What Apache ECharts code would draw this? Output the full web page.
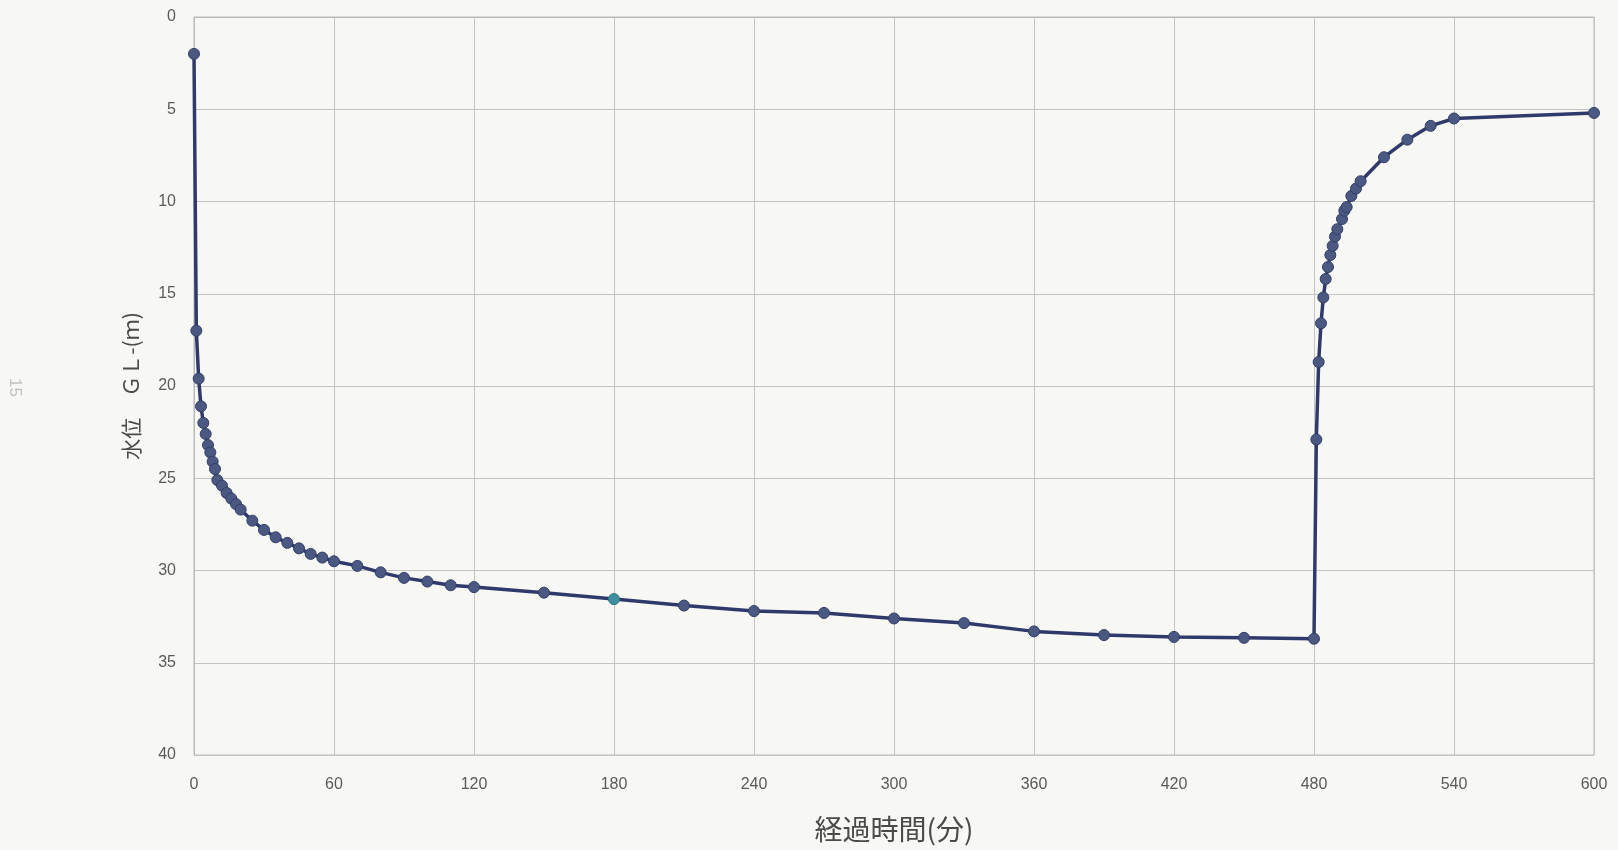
<!DOCTYPE html>
<html>
<head>
<meta charset="utf-8">
<title>経過時間と水位</title>
<script src="https://cdn.jsdelivr.net/npm/echarts@6/dist/echarts.min.js"></script>
<style>
  html, body { margin: 0; padding: 0; background: #f7f7f4; }
  #chart { width: 1618px; height: 850px; }
</style>
</head>
<body>
<div id="chart"></div>
<script>
// Pumping / recovery test: elapsed time (min) vs water level GL-(m)
const timesMin = [
  0, 1, 2, 3, 4, 5, 6, 7, 8, 9, 10, 12, 14, 16, 18, 20,
  25, 30, 35, 40, 45, 50, 55, 60, 70, 80, 90, 100, 110, 120,
  150, 180, 210, 240, 270, 300, 330, 360, 390, 420, 450, 480,
  481, 482, 483, 484, 485, 486, 487, 488, 489, 490, 492, 493, 494,
  496, 498, 500, 510, 520, 530, 540, 600
];
const waterLevel = [
  2.0, 17.0, 19.6, 21.1, 22.0, 22.6, 23.2, 23.6, 24.1, 24.5, 25.1, 25.4, 25.8, 26.1, 26.4, 26.7,
  27.3, 27.8, 28.2, 28.5, 28.8, 29.1, 29.3, 29.5, 29.75, 30.1, 30.4, 30.6, 30.8, 30.9,
  31.2, 31.55, 31.9, 32.2, 32.3, 32.6, 32.85, 33.3, 33.5, 33.6, 33.65, 33.7,
  22.9, 18.7, 16.6, 15.2, 14.2, 13.55, 12.9, 12.4, 11.9, 11.5, 10.95, 10.5, 10.3,
  9.7, 9.3, 8.9, 7.6, 6.65, 5.9, 5.5, 5.2
];
const xTicks = [0, 60, 120, 180, 240, 300, 360, 420, 480, 540, 600];
const yTicks = [0, 5, 10, 15, 20, 25, 30, 35, 40];
const highlightTime = 180;

const labelFont = '"Liberation Sans Narrow", "Liberation Sans", "DejaVu Sans", sans-serif';
const cjkFont = '"Noto Sans CJK JP", "Noto Sans", sans-serif';

const points = timesMin.map((t, i) => {
  const p = { value: [t, waterLevel[i]] };
  if (t === highlightTime) {
    p.itemStyle = { color: '#3f8f9e', borderColor: '#2f7482' };
  }
  return p;
});

const chart = echarts.init(document.getElementById('chart'));
chart.setOption({
  backgroundColor: '#f7f7f4',
  animation: false,
  grid: { left: 194, right: 24, top: 17, bottom: 95, show: true, borderColor: '#b9b9b9', borderWidth: 1 },
  xAxis: {
    type: 'value',
    min: xTicks[0],
    max: xTicks[xTicks.length - 1],
    interval: 60,
    name: '経過時間(分)',
    nameLocation: 'middle',
    nameGap: 60,
    nameTextStyle: { fontFamily: cjkFont, fontSize: 28, color: '#4a4a4a' },
    axisLine: { show: true, lineStyle: { color: '#b9b9b9' } },
    axisTick: { show: false },
    axisLabel: { margin: 22, fontFamily: labelFont, fontSize: 16, color: '#5a5a5a' },
    splitLine: { show: true, lineStyle: { color: '#c4c4c4', width: 1 } }
  },
  yAxis: {
    type: 'value',
    inverse: true,
    min: yTicks[0],
    max: yTicks[yTicks.length - 1],
    interval: 5,
    name: '水位　ＧＬ-(ｍ)',
    nameLocation: 'middle',
    nameGap: 52,
    nameRotate: 90,
    nameTextStyle: { fontFamily: cjkFont, fontSize: 21, color: '#4a4a4a' },
    axisLine: { show: true, lineStyle: { color: '#b9b9b9' } },
    axisTick: { show: false },
    axisLabel: { margin: 18, fontFamily: labelFont, fontSize: 16, color: '#5a5a5a' },
    splitLine: { show: true, lineStyle: { color: '#c4c4c4', width: 1 } }
  },
  graphic: [{
    type: 'text',
    left: 6,
    top: 378,
    rotation: -Math.PI / 2,
    style: { text: '15', fill: '#c2c2c2', fontSize: 17, fontFamily: labelFont }
  }],
  series: [{
    type: 'line',
    data: points,
    symbol: 'circle',
    symbolSize: 11,
    lineStyle: { color: '#2f3a6b', width: 3.5 },
    itemStyle: { color: '#4a5882', borderColor: '#323e68', borderWidth: 1 }
  }]
});
</script>
</body>
</html>
